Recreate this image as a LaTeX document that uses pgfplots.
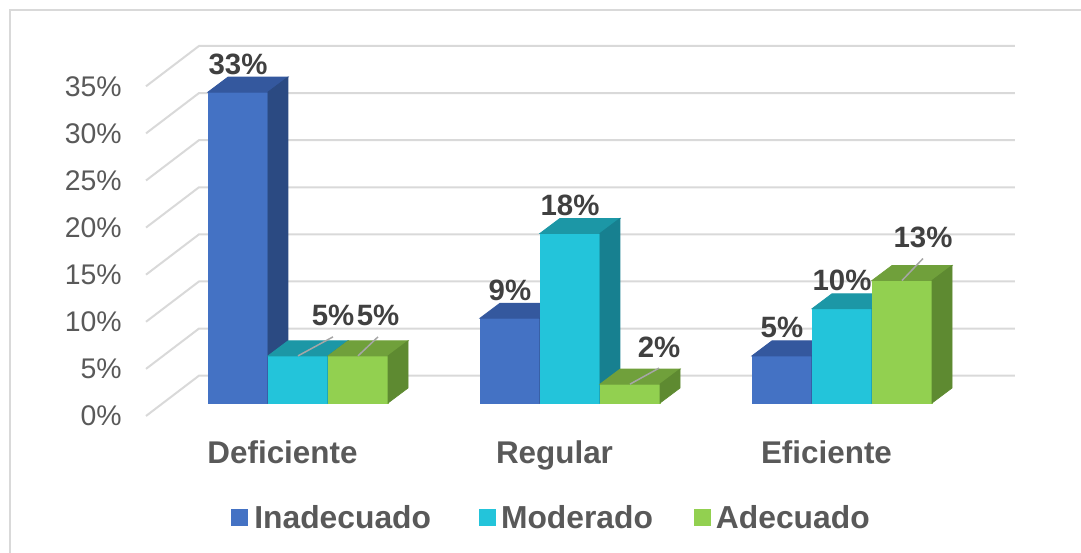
\documentclass[border=0pt]{standalone}
\usepackage{fontspec}
\setmainfont{Liberation Sans}
\usepackage{pgfplots}
\usepackage{pgfplotstable}
\pgfplotsset{compat=1.18}

\definecolor{inadF}{HTML}{4472C4}
\definecolor{inadT}{HTML}{34589E}
\definecolor{inadS}{HTML}{2B4A82}
\definecolor{modF}{HTML}{23C4DA}
\definecolor{modT}{HTML}{1C97A6}
\definecolor{modS}{HTML}{178090}
\definecolor{adeF}{HTML}{92D050}
\definecolor{adeT}{HTML}{70A03B}
\definecolor{adeS}{HTML}{5E8A31}
\definecolor{gridc}{HTML}{D9D9D9}
\definecolor{lbl}{HTML}{404040}
\definecolor{txt}{HTML}{595959}
\definecolor{leadc}{HTML}{A6A6A6}

% x = categoria + desplazamiento de la serie, v = porcentaje
\pgfplotstableread{
x        v
-0.2206  33
0.7794   9
1.7794   5
}\inadecuado
\pgfplotstableread{
x        v
0        5
1        18
2        10
}\moderado
\pgfplotstableread{
x        v
0.2206   5
1.2206   2
2.2206   13
}\adecuado

\pgfdeclareplotmark{none3d}{}
\newcommand{\yu}{4.71} % pt por unidad en y

% #1 frente, #2 tapa, #3 lado, #4/#5 desplazamiento de la etiqueta (pt)
\pgfplotsset{
  bar3d/.style n args={5}{
    scatter, only marks, mark=none3d, forget plot,
    visualization depends on={rawy \as \V},
    scatter/@pre marker code/.code={
      \fill[#1] (-15pt,0pt) rectangle (15pt,{-\V*\yu pt});
      \fill[#2] (-15pt,0pt) -- (15pt,0pt) -- (25pt,7.5pt) -- (-5pt,7.5pt) -- cycle;
      \fill[#3] (15pt,0pt) -- (25pt,7.5pt) -- (25pt,{7.5pt-\V*\yu pt}) -- (15pt,{-\V*\yu pt}) -- cycle;
      \ifdim #4pt=0pt\else
        \draw[leadc, line width=0.75pt] (0pt,0pt) -- (#4pt,{(#5-5.5)*1pt});
      \fi
      \pgfmathtruncatemacro\Vi{\V}
      \node[anchor=base, inner sep=0pt, text=lbl,
        font=\bfseries\fontsize{14.7}{17}\selectfont] at (#4pt,#5pt) {\Vi\%};
    },
    scatter/@post marker code/.code={},
  },
  rows/.style 2 args={restrict expr to domain={\coordindex}{#1:#2}},
}

\begin{document}
\begin{tikzpicture}
\begin{axis}[
  x=136pt, y=4.71pt,
  xmin=-0.5588, xmax=2.636, ymin=-1.38, ymax=38,
  clip=false,
  axis line style={draw=none},
  major tick length=0pt,
  ytick={-1.38,3.62,8.62,13.62,18.62,23.62,28.62,33.62},
  yticklabels={0\%,5\%,10\%,15\%,20\%,25\%,30\%,35\%},
  yticklabel style={anchor=east, inner sep=0pt, xshift=-12pt, text=txt,
    font=\fontsize{14.2}{16}\selectfont},
  xtick={-0.057,0.943,1.943},
  xticklabels={Deficiente,Regular,Eficiente},
  xticklabel style={anchor=north, inner sep=0pt, yshift=-12pt, text=txt,
    font=\bfseries\fontsize{15.7}{18}\selectfont},
  legend image code/.code={\fill[#1, draw=none] (0pt,-4.25pt) rectangle (8.5pt,4.25pt);},
  legend columns=3,
  legend style={at={(0.4655,-0.275)}, anchor=center, draw=none, fill=none,
    inner sep=0pt, nodes={inner sep=0pt}, text=txt,
    font=\bfseries\fontsize{15.9}{18}\selectfont,
    /tikz/column 1/.style={column sep=3pt},
    /tikz/column 2/.style={column sep=24pt},
    /tikz/column 3/.style={column sep=2.5pt},
    /tikz/column 4/.style={column sep=20.5pt},
    /tikz/column 5/.style={column sep=2.5pt}},
]
% borde del grafico y caja
\draw[gridc, line width=0.75pt] (axis cs:-1.0588,-17) -- (axis cs:-1.0588,41.72) -- (axis cs:3,41.72);
\coordinate (BL) at (axis cs:-1.0956,-15.92);
\coordinate (TR) at (axis cs:2.8787,42.78);

% paredes con lineas de division
\pgfplotsinvokeforeach{0,5,10,15,20,25,30,35}{
  \draw[gridc, line width=1pt] (axis cs:-0.5588,{#1-1.38}) -- (axis cs:-0.364,{#1+2.9}) -- (axis cs:2.636,{#1+2.9});
}

\addplot[bar3d={inadF}{inadT}{inadS}{0}{9}] table[x=x, y=v] {\inadecuado};
\addplot[bar3d={modF}{modT}{modS}{17.5}{15}, rows={0}{0}] table[x=x, y=v] {\moderado};
\addplot[bar3d={modF}{modT}{modS}{0}{9}, rows={1}{2}] table[x=x, y=v] {\moderado};
\addplot[bar3d={adeF}{adeT}{adeS}{10}{15}, rows={0}{0}] table[x=x, y=v] {\adecuado};
\addplot[bar3d={adeF}{adeT}{adeS}{14.5}{13.5}, rows={1}{1}] table[x=x, y=v] {\adecuado};
\addplot[bar3d={adeF}{adeT}{adeS}{10.5}{16.5}, rows={2}{2}] table[x=x, y=v] {\adecuado};

\addlegendimage{fill=inadF}\addlegendentry{Inadecuado}
\addlegendimage{fill=modF}\addlegendentry{Moderado}
\addlegendimage{fill=adeF}\addlegendentry{Adecuado}
\end{axis}
\pgfresetboundingbox
\useasboundingbox (BL) rectangle (TR);
\end{tikzpicture}
\end{document}
